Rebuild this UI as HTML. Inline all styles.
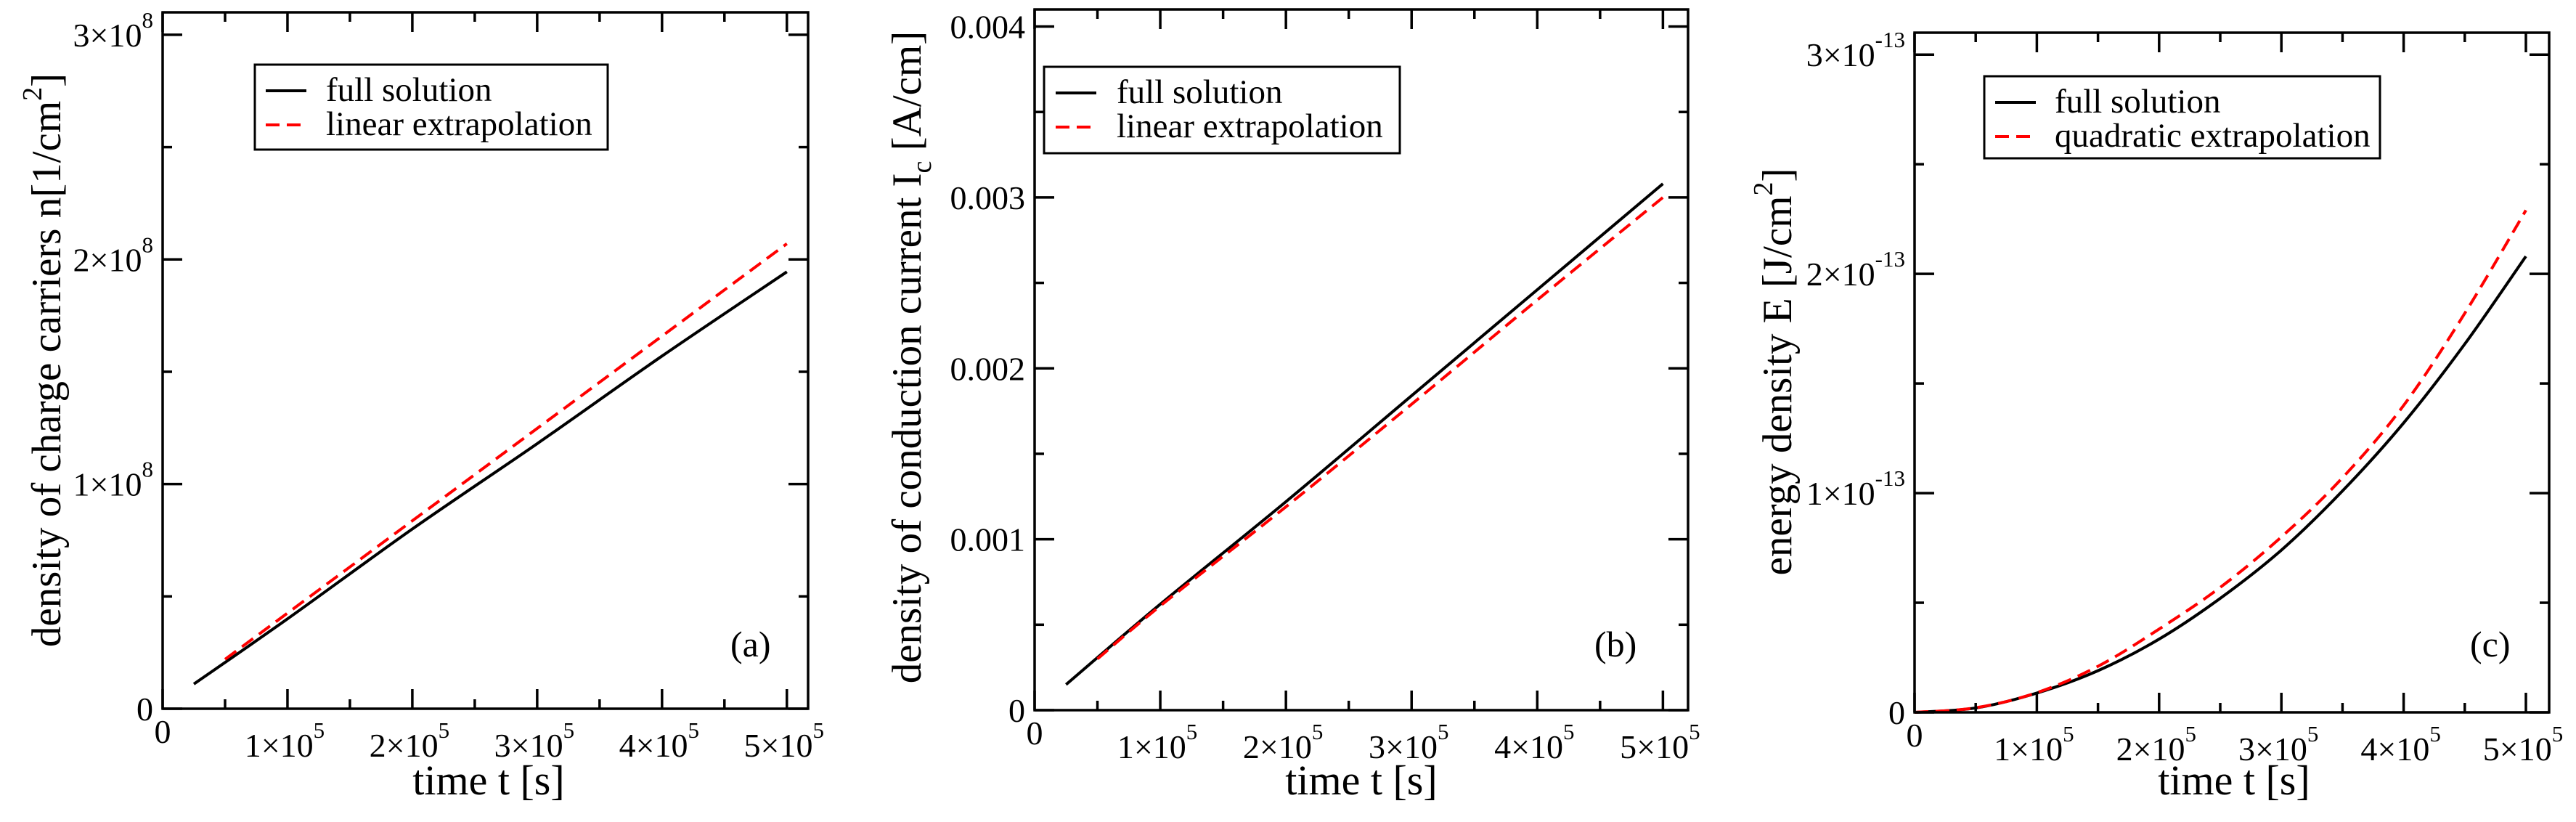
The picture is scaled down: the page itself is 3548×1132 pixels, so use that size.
<!DOCTYPE html>
<html><head><meta charset="utf-8"><style>html,body{margin:0;padding:0;background:#fff}svg{display:block}svg text{font-family:"Liberation Serif",serif;fill:#000}</style></head>
<body>
<svg id="fig" width="3548" height="1132" viewBox="0 0 3548 1132" xmlns="http://www.w3.org/2000/svg" font-family="Liberation Serif, serif"></svg>
<script>
const NS="http://www.w3.org/2000/svg";
// Panel (a)
const tA_full=[0.25,1,2,3,4,5];
const nA_full=[0.11,0.40,0.80,1.18,1.57,1.945];
const tA_lin=[0.5,5];
const nA_lin=[0.22,2.07];
// Panel (b)
const tB_full=[0.25,1,2,3,4,5];
const iB_full=[0.15,0.62,1.22,1.84,2.46,3.08];
const tB_lin=[0.5,1,2,3,4,5];
const iB_lin=[0.30,0.61,1.19,1.79,2.40,3.00];
// Panel (c)
const tC=[0,0.5,1,1.5,2,2.5,3,3.5,4,4.5,5];
const eC_full=[0,0.02,0.088,0.19,0.334,0.52,0.74,1.01,1.32,1.68,2.08];
const eC_quad=[0,0.021,0.09,0.21,0.38,0.57,0.80,1.07,1.40,1.82,2.29];
const xTickVals=[0,1,2,3,4,5];
const yTickVals=[0,1,2,3];
const yTickB=[0,0.001,0.002,0.003,0.004];

const svg=document.getElementById('fig');
function el(tag,attrs,parent){const e=document.createElementNS(NS,tag);for(const k in attrs)e.setAttribute(k,attrs[k]);(parent||svg).appendChild(e);return e;}
function smoothPath(pts){
  if(pts.length<3)return 'M'+pts.map(p=>p.join(',')).join(' L');
  let d='M'+pts[0][0]+','+pts[0][1];
  for(let i=0;i<pts.length-1;i++){
    const p0=pts[i-1]||pts[i],p1=pts[i],p2=pts[i+1],p3=pts[i+2]||p2;
    const c1=[p1[0]+(p2[0]-p0[0])/6,p1[1]+(p2[1]-p0[1])/6];
    const c2=[p2[0]-(p3[0]-p1[0])/6,p2[1]-(p3[1]-p1[1])/6];
    d+=` C${c1[0]},${c1[1]} ${c2[0]},${c2[1]} ${p2[0]},${p2[1]}`;
  }
  return d;
}

function panel(cfg){
  const g=el('g',{});
  
  
  const X=v=>cfg.L+(v-0)/cfg.xmax*(cfg.R-cfg.L);
  const Y=v=>cfg.B-(v/cfg.ymax)*(cfg.B-cfg.T);
  cfg.series.forEach(s=>{
    const pts=s.x.map((t,i)=>[X(t),Y(s.y[i])]);
    const p=el('path',{d:smoothPath(pts),fill:'none',stroke:s.color,'stroke-width':4,'stroke-linejoin':'round','stroke-dasharray':s.dash||'none'},g);
    
    
  });
  const fr=el('rect',{x:cfg.L,y:cfg.T,width:cfg.R-cfg.L,height:cfg.B-cfg.T,fill:'none',stroke:'#000','stroke-width':3.5},g);
  
  
  for(let v=0;v<=cfg.xmax+1e-9;v+=0.5){
    const major=Math.abs(v-Math.round(v))<1e-9, len=major?27:13, x=X(v);
    el('line',{x1:x,y1:cfg.B,x2:x,y2:cfg.B-len,stroke:'#000','stroke-width':3.5},g);
    el('line',{x1:x,y1:cfg.T,x2:x,y2:cfg.T+len,stroke:'#000','stroke-width':3.5},g);
  }
  xTickVals.forEach(v=>{
    const x=X(v);
    if(v===0){const t=el('text',{x:x,y:cfg.B+47,'font-size':46,'text-anchor':'middle'},g);t.textContent='0';
      return;}
    const t=el('text',{x:x-4,y:cfg.B+66,'font-size':46,'text-anchor':'middle'},g);
    
    
    t.appendChild(document.createTextNode(v+'\u00d710'));
    const s=el('tspan',{'font-size':31,dy:-26},t);s.textContent='5';
  });
  for(let v=0;v<=cfg.ymax+1e-9;v+=cfg.yminor){
    const major=Math.abs(v/cfg.ymajor-Math.round(v/cfg.ymajor))<1e-6, len=major?27:13, y=Y(v);
    el('line',{x1:cfg.L,y1:y,x2:cfg.L+len,y2:y,stroke:'#000','stroke-width':3.5},g);
    el('line',{x1:cfg.R,y1:y,x2:cfg.R-len,y2:y,stroke:'#000','stroke-width':3.5},g);
  }
  cfg.yticks.forEach(v=>{
    const y=Y(v);
    const t=el('text',{x:cfg.L-13,y:y+16,'font-size':46,'text-anchor':'end'},g);
    
    
    if(v===0||!cfg.exp){t.textContent=cfg.fmt?cfg.fmt(v):String(v);return;}
    t.appendChild(document.createTextNode(v+'\u00d710'));
    const s=el('tspan',{'font-size':31,dy:-26},t);s.textContent=cfg.exp;
  });
  const xt=el('text',{x:cfg.xtx,y:1094,'font-size':58,'text-anchor':'middle','xml:space':'preserve'},g);
  
  
  xt.textContent=cfg.xtitle;
  const yt=el('text',{x:0,y:0,'font-size':57,'text-anchor':'middle','xml:space':'preserve',transform:`translate(${cfg.ytx},${cfg.yty}) rotate(-90)`},g);
  
  
  cfg.ytitle.forEach(p=>{const s=el('tspan',p.sup?{'font-size':38,dy:-26}:p.sub?{'font-size':38,dy:14}:(p.reset?{dy:p.reset}:{}),yt);s.textContent=p.t;});
  const lg=el('g',{},g);
  
  
  const lb=cfg.leg;
  el('rect',{x:lb.x,y:lb.y,width:lb.w,height:lb.h,fill:'#fff',stroke:'#000','stroke-width':3},lg);
  cfg.series.forEach((s,i)=>{
    const yy=lb.y+36+i*47;
    el('line',{x1:lb.sx,y1:yy,x2:lb.sx+56,y2:yy,stroke:s.color,'stroke-width':4,'stroke-dasharray':s.dash||'none'},lg);
    const t=el('text',{x:lb.tx,y:yy+14,'font-size':47},lg);
    
    
    t.textContent=s.label;
  });
  const pl=el('text',{x:cfg.plx,y:904,'font-size':50},g);
  
  
  pl.textContent=cfg.pl;
}

panel({name:'panel-a',L:224,R:1113,T:17,B:976,xmax:5.17,ymax:3.1,yminor:0.5,ymajor:1,yticks:yTickVals,exp:'8',
  series:[{name:'line-full-solution',x:tA_full,y:nA_full,color:'#000',label:'full solution'},
          {name:'line-linear-extrapolation',x:tA_lin,y:nA_lin,color:'#ff0000',dash:'19 10',label:'linear extrapolation'}],
  xtx:673,xtitle:'time t [s]',ytx:83,yty:496,
  ytitle:[{t:'density of charge carriers  n[1/cm'},{t:'2',sup:1},{t:']',reset:26}],
  leg:{x:351,y:89,w:486,h:117,sx:366,tx:449},plx:1006,pl:'(a)'});
panel({name:'panel-b',L:1425,R:2325,T:13,B:978,xmax:5.2,ymax:4.1,yminor:0.5,ymajor:1,yticks:yTickB.map(v=>v*1000),fmt:v=>v===0?'0':(v/1000).toFixed(3),
  series:[{name:'line-full-solution',x:tB_full,y:iB_full,color:'#000',label:'full solution'},
          {name:'line-linear-extrapolation',x:tB_lin,y:iB_lin,color:'#ff0000',dash:'19 10',label:'linear extrapolation'}],
  xtx:1875,xtitle:'time t [s]',ytx:1268,yty:492,
  ytitle:[{t:'density of conduction current I'},{t:'c',sub:1},{t:' [A/cm]',reset:-14}],
  leg:{x:1438,y:92,w:490,h:119,sx:1454,tx:1538},plx:2196,pl:'(b)'});
panel({name:'panel-c',L:2637,R:3511,T:45,B:981,xmax:5.19,ymax:3.1,yminor:0.5,ymajor:1,yticks:yTickVals,exp:'-13',
  series:[{name:'line-full-solution',x:tC,y:eC_full,color:'#000',label:'full solution'},
          {name:'line-quadratic-extrapolation',x:tC,y:eC_quad,color:'#ff0000',dash:'19 10',label:'quadratic extrapolation'}],
  xtx:3077,xtitle:'time  t [s]',ytx:2467,yty:512,
  ytitle:[{t:'energy density  E [J/cm'},{t:'2',sup:1},{t:']',reset:26}],
  leg:{x:2733,y:105,w:545,h:113,sx:2748,tx:2830},plx:3402,pl:'(c)'});
</script>
</body></html>
